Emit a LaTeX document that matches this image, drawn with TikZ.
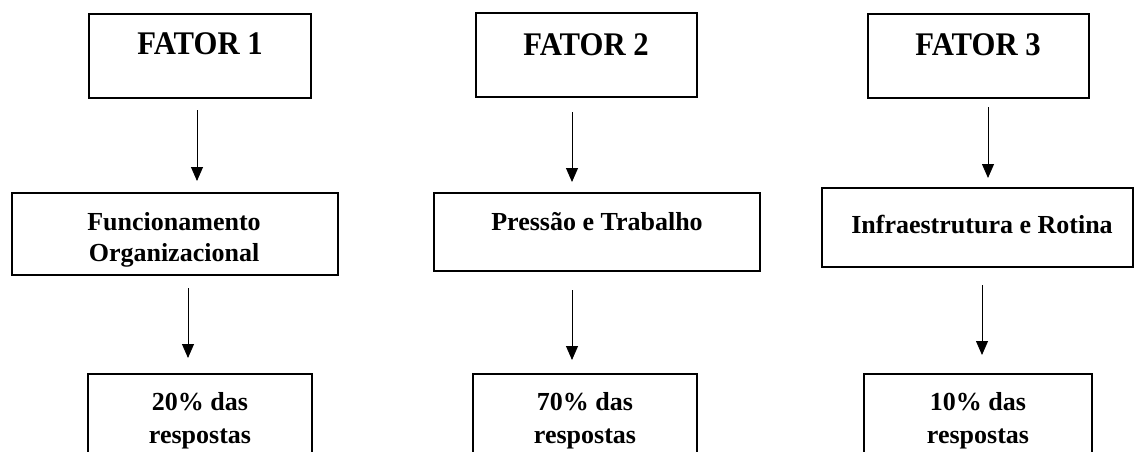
\documentclass[tikz,border=0pt]{standalone}
\usepackage{fontspec}
\setmainfont{Liberation Serif}
\usetikzlibrary{arrows.meta}
\begin{document}
\begin{tikzpicture}[x=1pt,y=-1pt,
  box/.style={draw, line width=2pt, inner sep=0pt, outer sep=0pt},
  lbl/.style={font=\bfseries\fontsize{33}{38}\selectfont, xscale=0.93, anchor=base, inner sep=0pt},
  txt/.style={font=\bfseries\fontsize{26}{31}\selectfont, anchor=base, inner sep=0pt},
  arr/.style={line width=0.9pt, -{Triangle[width=12pt,length=14pt]}}]
\useasboundingbox (0,0) rectangle (1137,452);
\clip (0,0) rectangle (1137,452);
% boxes
\node[box, minimum width=222pt, minimum height=84pt] (f1) at (200,56) {};
\node[box, minimum width=221pt, minimum height=84pt] (f2) at (586.5,55) {};
\node[box, minimum width=221pt, minimum height=84pt] (f3) at (978.5,56) {};
\node[box, minimum width=326pt, minimum height=82pt] (m1) at (175,234) {};
\node[box, minimum width=326pt, minimum height=78pt] (m2) at (597,232) {};
\node[box, minimum width=311pt, minimum height=79pt] (m3) at (977.5,227.5) {};
\node[box, minimum width=224pt, minimum height=100pt] (b1) at (200,424) {};
\node[box, minimum width=224pt, minimum height=100pt] (b2) at (585,424) {};
\node[box, minimum width=228pt, minimum height=100pt] (b3) at (978,424) {};
% texts
\node[lbl] (t1) at (200,55) {FATOR 1};
\node[lbl] (t2) at (586,56) {FATOR 2};
\node[lbl] (t3) at (978,56) {FATOR 3};
\node[txt] (m1a) at (174,230) {Funcionamento};
\node[txt] (m1b) at (174,261) {Organizacional};
\node[txt] (m2a) at (597,230) {Pressão e Trabalho};
\node[txt] (m3a) at (982,233) {Infraestrutura e Rotina};
\node[txt] (b1a) at (200,410) {20\% das};
\node[txt] (b1b) at (200,443) {respostas};
\node[txt] (b2a) at (585,410) {70\% das};
\node[txt] (b2b) at (585,443) {respostas};
\node[txt] (b3a) at (978,410) {10\% das};
\node[txt] (b3b) at (978,443) {respostas};
% arrows
\draw[arr] ([xshift=-3pt,yshift=-12pt]f1.south) -- ([xshift=22pt,yshift=12pt]m1.north);
\draw[arr] ([xshift=-14.5pt,yshift=-15pt]f2.south) -- ([xshift=-25pt,yshift=11pt]m2.north);
\draw[arr] ([xshift=9.5pt,yshift=-9pt]f3.south) -- ([xshift=10.5pt,yshift=10pt]m3.north);
\draw[arr] ([xshift=13pt,yshift=-13pt]m1.south) -- ([xshift=-12pt,yshift=16pt]b1.north);
\draw[arr] ([xshift=-25pt,yshift=-19pt]m2.south) -- ([xshift=-13pt,yshift=14pt]b2.north);
\draw[arr] ([xshift=4.5pt,yshift=-18pt]m3.south) -- ([xshift=4pt,yshift=19pt]b3.north);
\end{tikzpicture}
\end{document}
